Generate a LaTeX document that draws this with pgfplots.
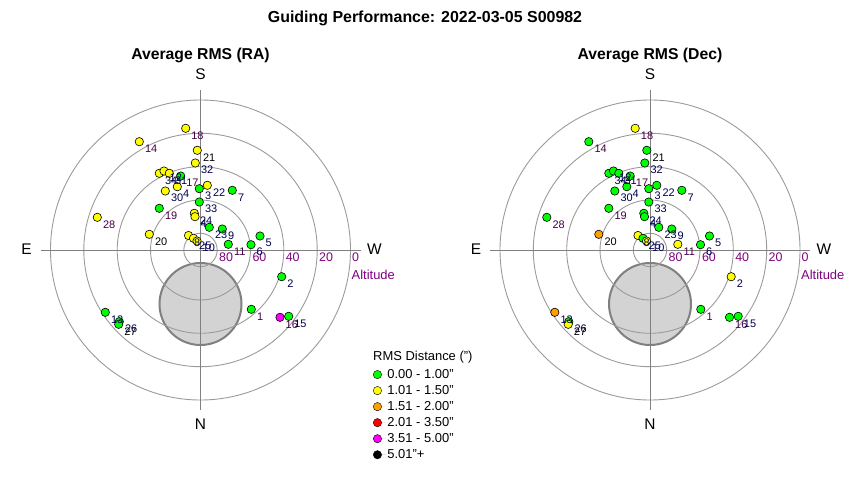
\documentclass[border=0pt]{standalone}
\usepackage{fontspec}
\setmainfont{Liberation Sans}
\usepackage{pgfplots}
\usepackage{pgfplotstable}
\pgfplotsset{compat=1.18}

\definecolor{cgreen}{RGB}{0,255,0}
\definecolor{cyellow}{RGB}{255,255,0}
\definecolor{corange}{RGB}{255,160,0}
\definecolor{cred}{RGB}{255,0,0}
\definecolor{cmag}{RGB}{255,0,255}
\definecolor{altpurple}{RGB}{128,0,128}
\definecolor{ringgray}{RGB}{155,155,155}
\definecolor{axisgray}{RGB}{128,128,128}
\definecolor{diskfill}{RGB}{211,211,211}
\definecolor{lp}{RGB}{70,0,70}
\definecolor{ln}{RGB}{0,0,80}
\definecolor{lk}{RGB}{0,0,0}

\newcommand{\qd}{\char34\relax}% straight double quote

% offsets in px from the plot centre (y up), RMS class for RA and Dec
% (1 = 0.00-1.00, 2 = 1.01-1.50, 3 = 1.51-2.00, 4 = 2.01-3.50, 5 = 3.51-5.00), label
% labels set in dark purple
\pgfplotstableread{
x y ra dec lab
-14.8 121.7 2 2 18
-61.2 108.3 2 1 14
-19.8 74.0 1 1 17
-41.2 41.7 1 1 19
-103.2 32.7 2 1 28
27.8 5.7 1 2 11
50.8 -59.3 1 1 1
79.5 -67.3 5 1 16
}\starsP
% labels set in dark navy
\pgfplotstableread{
x y ra dec lab
-5.2 87.0 2 1 32
-41.2 76.7 2 1 34
-36.5 79.0 2 1 12
-31.2 76.7 2 1 31
-23.2 63.3 2 1 4
-35.2 59.0 2 1 30
6.8 64.7 2 1 22
-1.2 61.3 1 1 3
31.8 59.7 1 1 7
-1.2 48.0 1 1 33
-6.2 36.7 2 1 24
-5.5 33.3 2 1 4
8.8 22.7 1 1 23
21.8 21.0 1 1 9
50.5 5.3 1 1 6
59.5 14.0 1 1 5
81.2 -26.7 1 2 2
-12.0 14.5 2 2 8
-7.0 11.7 2 1 25
-3.5 9.0 2 2 10
-95.2 -62.3 1 3 13
-81.2 -71.7 1 1 26
88.2 -66.3 1 1 15
}\starsN
% labels set in black
\pgfplotstableread{
x y ra dec lab
-3.2 99.7 2 1 21
-51.2 15.7 2 3 20
-81.8 -74.3 1 2 27
}\starsK

\pgfplotsset{
  skyplot/.style={
    hide axis, scale only axis, width=350bp, height=350bp,
    xmin=-175, xmax=175, ymin=-175, ymax=175,
    clip=false, anchor=center,
    colormap={rms}{rgb255(1)=(0,255,0) rgb255(2)=(255,255,0)
      rgb255(3)=(255,160,0) rgb255(4)=(255,0,0) rgb255(5)=(255,0,255)},
    point meta min=1, point meta max=5,
    /pgf/number format/assume math mode=true,
  },
  starmarks/.style={
    scatter, only marks, forget plot, mark=*, point meta=explicit,
    scatter/use mapped color={draw=black, fill=mapped color},
    mark size=4.2pt, line width=0.6bp,
  },
  starlabels/.style={
    only marks, mark=none, forget plot, point meta=explicit,
    nodes near coords,
    every node near coord/.append style={anchor=west, inner sep=0pt,
      xshift=5.5bp, yshift=-7bp, text=#1,
      font=\fontsize{11}{13}\selectfont},
  },
}

\newcommand{\skygrid}{%
  \fill[diskfill] (axis cs:0,-54) circle[radius=41];
  \draw[axisgray, line width=2bp] (axis cs:0,-54) circle[radius=41];
  \pgfplotsinvokeforeach{16.7,50,83.3,116.7,150}{
    \draw[ringgray, line width=0.9bp] (axis cs:0,0) circle[radius=##1];}
  \draw[axisgray, line width=0.9bp] (axis cs:-160,0) -- (axis cs:160,0);
  \draw[axisgray, line width=0.9bp] (axis cs:0,-160) -- (axis cs:0,160);
  \node[font=\fontsize{15.5}{18}\selectfont] at (axis cs:0,176) {S};
  \node[font=\fontsize{15.5}{18}\selectfont] at (axis cs:0,-174) {N};
  \node[font=\fontsize{15.5}{18}\selectfont] at (axis cs:-174,1) {E};
  \node[font=\fontsize{15.5}{18}\selectfont] at (axis cs:174,1) {W};
  \node[altpurple, anchor=north west, inner sep=0pt, font=\fontsize{12.5}{14}\selectfont] at (axis cs:18.5,-3) {80};
  \node[altpurple, anchor=north west, inner sep=0pt, font=\fontsize{12.5}{14}\selectfont] at (axis cs:51.8,-3) {60};
  \node[altpurple, anchor=north west, inner sep=0pt, font=\fontsize{12.5}{14}\selectfont] at (axis cs:85.1,-3) {40};
  \node[altpurple, anchor=north west, inner sep=0pt, font=\fontsize{12.5}{14}\selectfont] at (axis cs:118.5,-3) {20};
  \node[altpurple, anchor=north west, inner sep=0pt, font=\fontsize{12.5}{14}\selectfont] at (axis cs:151.5,-3) {0};
  \node[altpurple, anchor=west, inner sep=0pt, font=\fontsize{13}{15}\selectfont] at (axis cs:151,-25) {Altitude};
}

% markers and their numbers for one RMS column
\newcommand{\skystars}[1]{%
  \addplot[starmarks] table[x=x, y=y, meta=#1] {\starsP};
  \addplot[starmarks] table[x=x, y=y, meta=#1] {\starsN};
  \addplot[starmarks] table[x=x, y=y, meta=#1] {\starsK};
  \addplot[starlabels=lp] table[x=x, y=y, meta=lab] {\starsP};
  \addplot[starlabels=ln] table[x=x, y=y, meta=lab] {\starsN};
  \addplot[starlabels=lk] table[x=x, y=y, meta=lab] {\starsK};
}

\begin{document}
\begin{tikzpicture}
\useasboundingbox (0,0) rectangle (850bp,-480bp);

\node[font=\bfseries\fontsize{16}{19}\selectfont] at (425bp,-18bp) {Guiding Performance: 2022-03-05 S00982};
\node[font=\bfseries\fontsize{15.8}{19}\selectfont] at (200.5bp,-55bp) {Average RMS (RA)};
\node[font=\bfseries\fontsize{15.8}{19}\selectfont] at (650bp,-55bp) {Average RMS (Dec)};

\begin{axis}[skyplot, at={(200.5bp,-250bp)},
  legend style={at={(0.993,0.164)}, anchor=north west, draw=none, fill=none,
    inner sep=0pt, row sep=2.5bp, font=\fontsize{13}{15}\selectfont,
    nodes={inner sep=1.5bp}},
  legend cell align=left,
  legend image code/.code={\path[draw=none] (-4.2bp,0bp) -- (8.4bp,0bp);
    \draw[#1] plot coordinates {(0bp,0bp)};},
]
\skygrid
\skystars{ra}
\addlegendimage{only marks, mark=*, mark size=4.2pt, draw=black, fill=cgreen}
\addlegendentry{0.00 - 1.00\qd}
\addlegendimage{only marks, mark=*, mark size=4.2pt, draw=black, fill=cyellow}
\addlegendentry{1.01 - 1.50\qd}
\addlegendimage{only marks, mark=*, mark size=4.2pt, draw=black, fill=corange}
\addlegendentry{1.51 - 2.00\qd}
\addlegendimage{only marks, mark=*, mark size=4.2pt, draw=black, fill=cred}
\addlegendentry{2.01 - 3.50\qd}
\addlegendimage{only marks, mark=*, mark size=4.2pt, draw=black, fill=cmag}
\addlegendentry{3.51 - 5.00\qd}
\addlegendimage{only marks, mark=*, mark size=4.2pt, draw=black, fill=black}
\addlegendentry{5.01\qd+}
\end{axis}

\begin{axis}[skyplot, at={(650bp,-250bp)}]
\skygrid
\skystars{dec}
\end{axis}

\node[anchor=west, inner sep=0pt, font=\fontsize{13}{15}\selectfont] at (373bp,-357bp) {RMS Distance (\qd)};
\end{tikzpicture}
\end{document}
